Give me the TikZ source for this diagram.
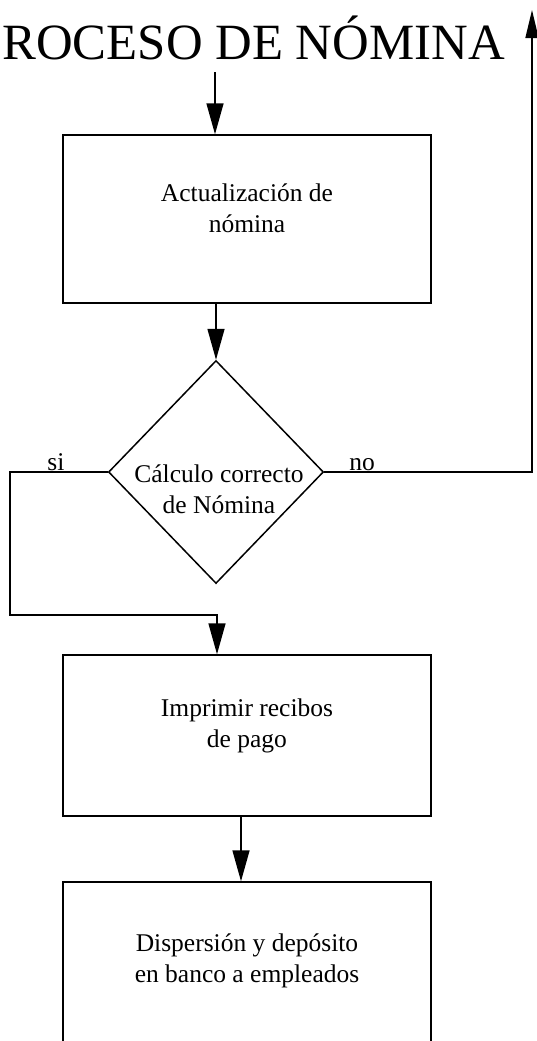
\documentclass[tikz,border=0pt]{standalone}
\usepackage{fontspec}
\setmainfont{Liberation Serif}
\usetikzlibrary{arrows.meta,shapes.geometric,positioning}

\tikzset{
  blok/.style={draw, line width=1.5bp, minimum width=368bp, inner sep=0pt},
  ruit/.style={draw, diamond, line width=1.5bp, minimum width=215bp, minimum height=223bp, inner sep=0pt},
  tekst/.style={align=center, inner sep=0pt, font=\fontsize{25.5bp}{31bp}\selectfont},
  pijl/.style={line width=1.5bp, -{Triangle[width=17bp,length=31bp]}},
}

\begin{document}
\begin{tikzpicture}[x=1bp, y=-1bp]
    % Vaste afmetingen van de tekening
    \useasboundingbox (0,0) rectangle (537,1041);
    \clip (0,0) rectangle (537,1041);

    % Titel
    \node[anchor=base east, inner sep=0pt, font=\fontsize{50.8bp}{56bp}\selectfont] (titel) at (505,59) {ROCESO DE NÓMINA};

    % Teken de blokken en de beslissing
    \node[blok, minimum height=168bp] (actualizacion) at (247,219) {};
    \node[ruit] (calculo) at (216,472) {};
    \node[blok, minimum height=161bp] (imprimir) at (247,735.5) {};
    \node[blok, minimum height=161bp] (dispersion) at (247,962.5) {};

    % Teksten in de blokken
    \node[tekst] (actualizaciontxt) at ([yshift=11bp]actualizacion.center) {Actualización de\\nómina};
    \node[tekst] (calculotxt) at ([xshift=3bp, yshift=-17bp]calculo.center) {Cálculo correcto\\de Nómina};
    \node[tekst] (imprimirtxt) at ([yshift=10bp]imprimir.center) {Imprimir recibos\\de pago};
    \node[tekst] (dispersiontxt) at ([yshift=1.5bp]dispersion.center) {Dispersión y depósito\\en banco a empleados};

    % Hulppunten voor de lussen
    \coordinate (begin) at (215,72);    % begin van de eerste pijl
    \coordinate (sihoek) at (10,615);   % hoek van de si-tak
    \coordinate (siin) at (217,615);    % si-tak boven Imprimir
    \coordinate (notop) at (532,10);    % eind van de no-tak

    % Teken de pijlen
    \draw[pijl] (begin) -- (begin |- actualizacion.north);
    \draw[pijl] (calculo.north |- actualizacion.south) -- (calculo.north);
    \draw[pijl] (calculo.west) -| (sihoek) -- (siin) -- (siin |- imprimir.north);
    \draw[pijl, -{Triangle[width=13bp,length=28bp]}] (calculo.east) -| (notop);
    \draw[pijl] ([xshift=-6bp]imprimir.south) -- ([xshift=-6bp]dispersion.north);

    % Labels van de takken
    \node[tekst, anchor=base] (si) at (56,470) {si};
    \node[tekst, anchor=base] (no) at (362,470) {no};

\end{tikzpicture}
\end{document}
